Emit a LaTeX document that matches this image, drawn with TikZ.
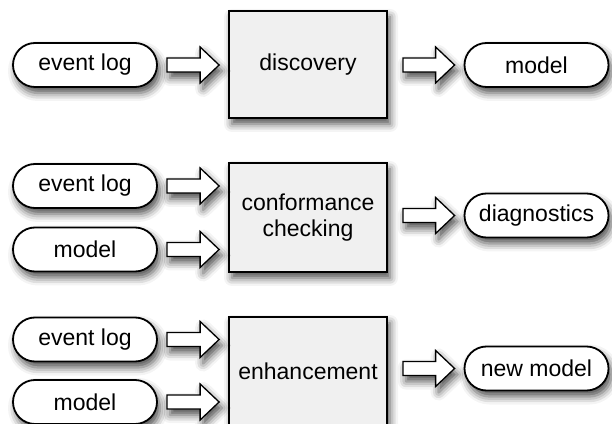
\documentclass[tikz,border=0pt]{standalone}
\usepackage{fontspec}
\setmainfont{Liberation Sans}
\usetikzlibrary{calc,shadows.blur}
\definecolor{boxfill}{RGB}{240,240,240}
\tikzset{
  x=1pt, y=1pt,
  shad/.style={blur shadow={shadow xshift=3pt, shadow yshift=-6pt, shadow blur radius=8pt, shadow opacity=70}},
  pill/.style={draw=black, fill=white, line width=1.8pt, rounded corners=22pt, minimum width=144pt, minimum height=44pt, inner sep=0pt, shad, font=\fontsize{23}{26}\selectfont},
  procbox/.style={draw=black, fill=boxfill, line width=1.8pt, minimum width=158pt, inner sep=0pt, align=center, shad, font=\fontsize{23}{26}\selectfont},
  barr/.style={draw=black, fill=white, line width=1.3pt, line join=miter, shad}
}
\newcommand\blockarr[2]{%
  \path let \p1=(#1), \p2=(#2) in
    [barr] (\x1,\y1+7pt) -- (\x2-19pt,\y1+7pt) -- (\x2-19pt,\y1+18pt) -- (\x2,\y1)
    -- (\x2-19pt,\y1-18pt) -- (\x2-19pt,\y1-7pt) -- (\x1,\y1-7pt) -- cycle;}
\begin{document}
\begin{tikzpicture}
\useasboundingbox (0,0) rectangle (612,423);
% row 1
\node[pill] (ev1) at (85,358) {event log};
\node[procbox, minimum height=107pt] (disc) at (308,358.5) {discovery};
\node[pill] (mod1) at (536.5,358) {model};
% row 2
\node[pill] (ev2) at (85,237) {event log};
\node[pill] (mod2) at (85,173.5) {model};
\node[procbox, minimum height=109pt] (conf) at (308,205.5) {conformance\\checking};
\node[pill] (diag) at (536.5,207.5) {diagnostics};
% row 3
\node[pill] (ev3) at (85,83.5) {event log};
\node[pill] (mod3) at (85,21) {model};
\node[procbox, minimum height=108pt] (enh) at (308,52) {enhancement};
\node[pill] (nmod) at (536.5,54.5) {new model};
% arrows
\blockarr{$(ev1.east)+(9pt,0)$}{$(ev1.east -| disc.west)+(-9pt,0)$}
\blockarr{$(disc.east |- mod1.west)+(15pt,0)$}{$(mod1.west)+(-9pt,0)$}
\blockarr{$(ev2.east)+(9pt,0)$}{$(ev2.east -| conf.west)+(-9pt,0)$}
\blockarr{$(mod2.east)+(9pt,0)$}{$(mod2.east -| conf.west)+(-9pt,0)$}
\blockarr{$(conf.east |- diag.west)+(15pt,0)$}{$(diag.west)+(-9pt,0)$}
\blockarr{$(ev3.east)+(9pt,0)$}{$(ev3.east -| enh.west)+(-9pt,0)$}
\blockarr{$(mod3.east)+(9pt,0)$}{$(mod3.east -| enh.west)+(-9pt,0)$}
\blockarr{$(enh.east |- nmod.west)+(15pt,0)$}{$(nmod.west)+(-9pt,0)$}
\end{tikzpicture}
\end{document}
